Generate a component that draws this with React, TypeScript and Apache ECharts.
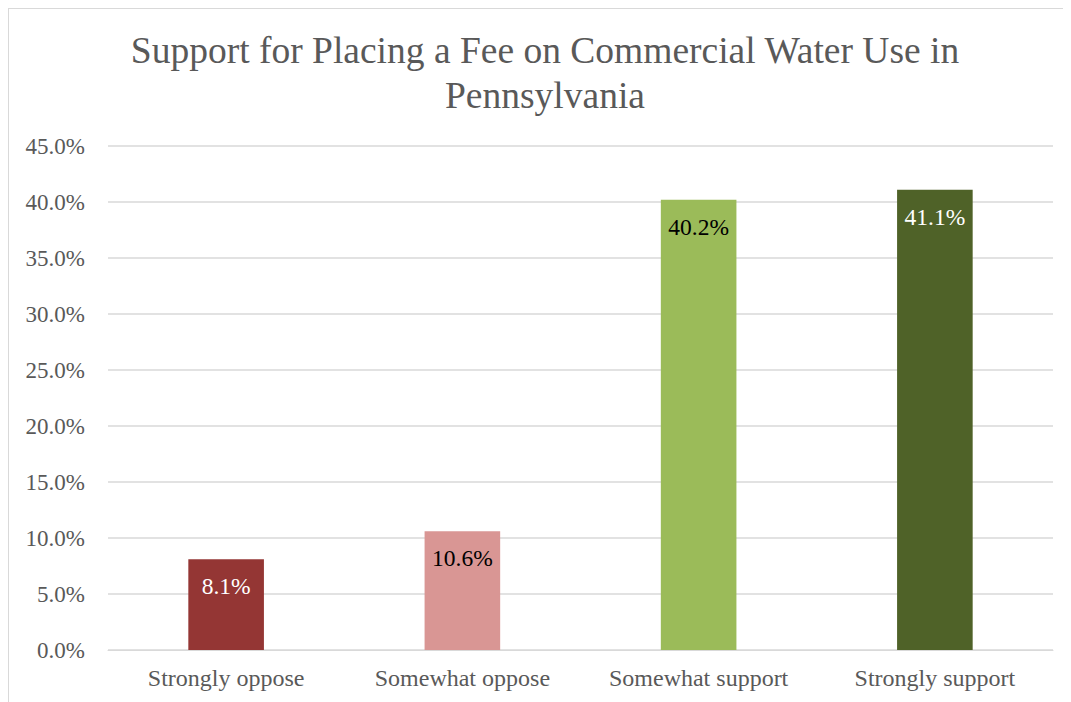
import React, { useEffect, useRef } from "react";
import * as echarts from "echarts";

const categories = ["Strongly oppose", "Somewhat oppose", "Somewhat support", "Strongly support"];
const values = [8.1, 10.6, 40.2, 41.1];
const barColors = ["#943634", "#d99694", "#9bbb59", "#4f6228"];
const labelColors = ["#ffffff", "#000000", "#000000", "#ffffff"];
const titleText = "Support for Placing a Fee on Commercial Water Use in\nPennsylvania";

const FONT = "'Liberation Serif', 'Times New Roman', serif";

export default function App() {
  const ref = useRef<HTMLDivElement>(null);
  useEffect(() => {
    if (!ref.current) return;
    const chart = echarts.init(ref.current, undefined, { renderer: "svg" });
    chart.setOption({
      animation: false,
      textStyle: { fontFamily: FONT },
      title: {
        text: titleText,
        left: 531,
        top: 14,
        textAlign: "center",
        textStyle: {
          fontFamily: FONT,
          fontSize: 37.5,
          fontWeight: "normal",
          color: "#595959",
          lineHeight: 45,
        },
      },
      grid: { left: 99, top: 137, width: 945, height: 504 },
      xAxis: {
        type: "category",
        data: categories,
        axisLine: { show: true, lineStyle: { color: "#d9d9d9", width: 1 } },
        axisTick: { show: false },
        axisLabel: { fontFamily: FONT, fontSize: 24, color: "#595959", margin: 16 },
      },
      yAxis: {
        type: "value",
        min: 0,
        max: 45,
        interval: 5,
        axisLine: { show: false },
        axisTick: { show: false },
        splitLine: { lineStyle: { color: "#d9d9d9", width: 1.5 } },
        axisLabel: {
          fontFamily: FONT,
          fontSize: 23,
          color: "#595959",
          margin: 23,
          formatter: (v: number) => v.toFixed(1) + "%",
        },
      },
      series: [
        {
          type: "bar",
          barWidth: "32%",
          data: values.map((v, i) => ({
            value: v,
            itemStyle: { color: barColors[i] },
            label: { color: labelColors[i] },
          })),
          label: {
            show: true,
            position: "insideTop",
            distance: 15,
            fontFamily: FONT,
            fontSize: 23.5,
            formatter: (p: any) => p.value.toFixed(1) + "%",
          },
        },
      ],
    });
    return () => chart.dispose();
  }, []);
  return (
    <div
      ref={ref}
      style={{
        width: 1063,
        height: 694,
        borderTop: "1px solid #d9d9d9",
        borderLeft: "1px solid #d9d9d9",
        boxSizing: "border-box",
      }}
    />
  );
}
